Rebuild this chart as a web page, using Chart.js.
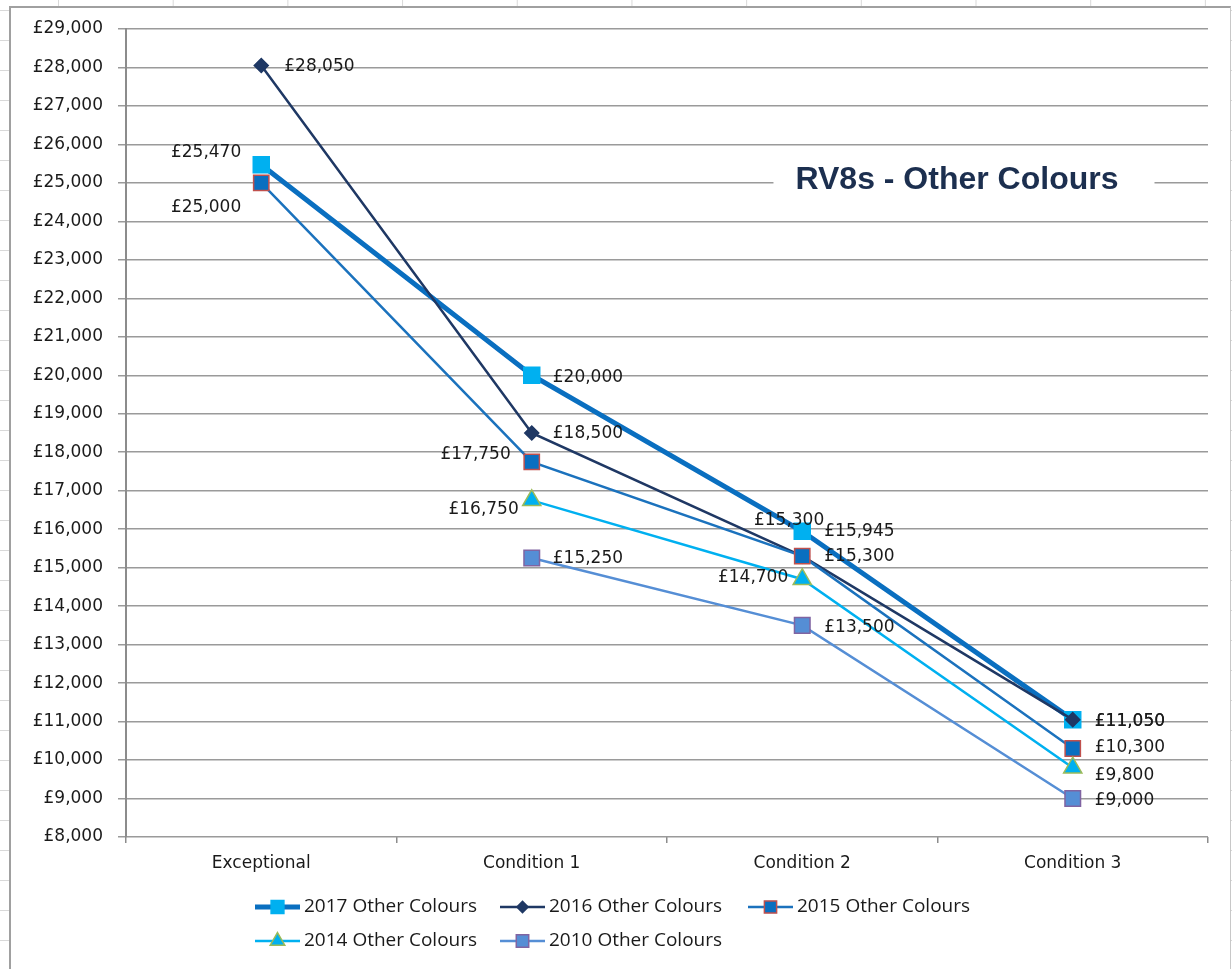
<!DOCTYPE html>
<html>
<head>
<meta charset="utf-8">
<script src="https://cdn.jsdelivr.net/npm/chart.js@4.4.0/dist/chart.umd.min.js"></script>
<style>
	html, body {
		margin: 0;
		padding: 0;
		width: 1232px;
		height: 969px;
		overflow: hidden;
		background-color: #fff;
		background-image: linear-gradient(to right, #d9d9d9 1px, transparent 1px), linear-gradient(to bottom, #d9d9d9 1px, transparent 1px);
		background-size: 114.7px 30px;
		background-position: 58px 10px;
	}
	#frame {
		position: absolute;
		left: 9px;
		top: 6px;
		width: 1219px;
		height: 963px;
		background: #fff;
		border-left: 2px solid #a0a0a0;
		border-top: 2px solid #a0a0a0;
		border-right: 1px solid #c8c8c8;
	}
	canvas { display: block; }
</style>
</head>
<body>
<div id="frame"><canvas id="rvChart" width="1219" height="961"></canvas></div>
<script>
// data
const categories = ['Exceptional', 'Condition 1', 'Condition 2', 'Condition 3'];
const seriesNames = ['2017 Other Colours', '2016 Other Colours', '2015 Other Colours', '2014 Other Colours', '2010 Other Colours'];
const values2017 = [25470, 20000, 15945, 11050];
const values2016 = [28050, 18500, 15300, 11050];
const values2015 = [25000, 17750, 15300, 10300];
const values2014 = [null, 16750, 14700, 9800];
const values2010 = [null, 15250, 13500, 9000];
const yMin = 8000;
const yMax = 29000;
const yStep = 1000;

// where each value label sits next to its point: [dx, dy, side]
const labelPlacement = [
	[[-20, -12, 'right'], [21, 2, 'left'], [22, 0, 'left'], [22, 2, 'left']],
	[[23, 1, 'left'], [21, 1, 'left'], [22, -36, 'right'], [22, 2, 'left']],
	[[-20, 25, 'right'], [-21, -7, 'right'], [22, 0, 'left'], [22, -1, 'left']],
	[null, [-13, 9, 'right'], [-14, -2, 'right'], [22, 8, 'left']],
	[null, [21, 1, 'left'], [22, 2, 'left'], [22, 2, 'left']]
];

const tickFont = { family: 'DejaVu Sans', size: 17 };

function money(v) {
	return '£' + Number(v).toLocaleString('en-GB');
}

// value labels like the excel data labels
const valueLabels = {
	id: 'valueLabels',
	afterDatasetsDraw(chart) {
		const ctx = chart.ctx;
		ctx.save();
		ctx.font = '17px "DejaVu Sans"';
		ctx.fillStyle = '#1a1a1a';
		ctx.textBaseline = 'middle';
		chart.data.datasets.forEach(function(ds, i) {
			const meta = chart.getDatasetMeta(i);
			meta.data.forEach(function(pt, j) {
				const place = labelPlacement[i][j];
				if (ds.data[j] == null || !place)
					return;
				ctx.textAlign = place[2];
				ctx.fillText(money(ds.data[j]), pt.x + place[0], pt.y + place[1]);
			});
		});
		ctx.restore();
	}
};

// title box sitting on top of the gridlines
const insideTitle = {
	id: 'insideTitle',
	beforeDatasetsDraw(chart) {
		const ctx = chart.ctx;
		const area = chart.chartArea;
		const x = area.left + (area.right - area.left) * 0.768;
		const y = chart.scales.y.getPixelForValue(25080);
		ctx.save();
		ctx.font = 'bold 32px "Liberation Sans"';
		const w = ctx.measureText('RV8s - Other Colours').width;
		ctx.fillStyle = '#fff';
		ctx.fillRect(x - w / 2 - 22, y - 22, w + 58, 44);
		ctx.fillStyle = '#1c2f4f';
		ctx.textAlign = 'center';
		ctx.textBaseline = 'middle';
		ctx.fillText('RV8s - Other Colours', x, y);
		ctx.restore();
	}
};

// excel style legend: short line with the marker in the middle
const lineLegend = {
	id: 'lineLegend',
	afterDraw(chart) {
		const ctx = chart.ctx;
		const cols = [244, 489, 737];
		const rows = [899, 933];
		ctx.save();
		chart.data.datasets.forEach(function(ds, i) {
			const x = cols[i % 3];
			const y = rows[Math.floor(i / 3)];
			ctx.strokeStyle = ds.borderColor;
			ctx.lineWidth = ds.borderWidth;
			ctx.beginPath();
			ctx.moveTo(x, y);
			ctx.lineTo(x + 45, y);
			ctx.stroke();
			ctx.fillStyle = ds.pointBackgroundColor;
			ctx.strokeStyle = ds.pointBorderColor;
			ctx.lineWidth = ds.pointBorderWidth;
			ctx.beginPath();
			drawMarker(ctx, ds.pointStyle, ds.pointRadius * 0.8, x + 22.5, y);
			ctx.fill();
			ctx.stroke();
			ctx.fillStyle = '#1a1a1a';
			ctx.font = '19px "Open Sans"';
			ctx.textAlign = 'left';
			ctx.textBaseline = 'middle';
			ctx.fillText(ds.label, x + 49, y);
		});
		ctx.restore();
	}
};

function drawMarker(ctx, style, r, x, y) {
	if (style === 'rect') {
		const s = r * Math.SQRT1_2;
		ctx.rect(x - s, y - s, 2 * s, 2 * s);
	} else if (style === 'rectRot') {
		ctx.moveTo(x, y - r);
		ctx.lineTo(x + r, y);
		ctx.lineTo(x, y + r);
		ctx.lineTo(x - r, y);
		ctx.closePath();
	} else {
		ctx.moveTo(x, y - r);
		ctx.lineTo(x + r * 0.866, y + r * 0.5);
		ctx.lineTo(x - r * 0.866, y + r * 0.5);
		ctx.closePath();
	}
}

function makeSeries(name, values, line, width, fill, edge, style, radius, order) {
	return {
		label: name,
		data: values,
		borderColor: line,
		borderWidth: width,
		backgroundColor: fill,
		pointBackgroundColor: fill,
		pointBorderColor: edge,
		pointBorderWidth: 1.5,
		pointStyle: style,
		pointRadius: radius,
		pointHoverRadius: radius,
		tension: 0,
		order: order
	};
}

new Chart(document.getElementById('rvChart'), {
	type: 'line',
	data: {
		labels: categories,
		datasets: [
			makeSeries(seriesNames[0], values2017, '#0a6fc0', 5, '#00b0f0', '#00b0f0', 'rect', 11.3, 5),
			makeSeries(seriesNames[1], values2016, '#1f3864', 2.5, '#1f3864', '#1f3864', 'rectRot', 7, 4),
			makeSeries(seriesNames[2], values2015, '#1b72bd', 2.5, '#0a6fc0', '#c0504d', 'rect', 10.8, 3),
			makeSeries(seriesNames[3], values2014, '#00b0f0', 2.5, '#00b0f0', '#9bbb59', 'triangle', 10.5, 2),
			makeSeries(seriesNames[4], values2010, '#558ed5', 2.5, '#558ed5', '#8064a2', 'rect', 11, 1)
		]
	},
	options: {
		responsive: false,
		animation: false,
		events: [],
		layout: {
			padding: { left: 0, top: 21, right: 22, bottom: 82 }
		},
		plugins: {
			legend: { display: false },
			tooltip: { enabled: false }
		},
		scales: {
			x: {
				offset: true,
				grid: {
					offset: true,
					drawOnChartArea: false,
					drawTicks: true,
					tickLength: 6,
					color: '#8c8c8c',
					lineWidth: 1.5
				},
				border: { display: false },
				ticks: {
					color: '#1a1a1a',
					font: tickFont,
					padding: 10,
					maxRotation: 0
				},
				afterFit(scale) {
					scale.height = 50;
				}
			},
			y: {
				min: yMin,
				max: yMax,
				grid: {
					color: '#9a9a9a',
					lineWidth: 1.5,
					tickLength: 8
				},
				border: { color: '#8c8c8c', width: 2 },
				ticks: {
					stepSize: yStep,
					color: '#1a1a1a',
					font: tickFont,
					padding: 15,
					callback: function(v) { return money(v); }
				},
				afterFit(scale) {
					scale.width = 115;
					// the tick padding would otherwise push the plot down
					scale.paddingTop = 0;
					scale.paddingBottom = 0;
				}
			}
		}
	},
	plugins: [insideTitle, valueLabels, lineLegend]
});
</script>
</body>
</html>
